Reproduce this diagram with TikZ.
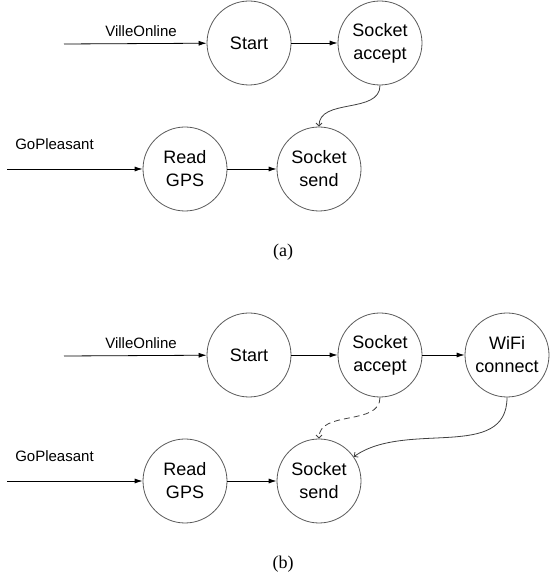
\documentclass[tikz,border=0pt]{standalone}
\usepackage{fontspec}
\setmainfont{Liberation Serif}
\setsansfont{Liberation Sans}
\usetikzlibrary{arrows.meta,positioning}

\begin{document}
\begin{tikzpicture}[x=1pt, y=1pt, ->, >={Latex[length=8pt,width=5pt]}, line width=0.8pt,
                on grid, node distance=131pt,
                state/.style={circle, draw=black!65, minimum size=84pt, inner sep=0pt, align=center,
                              font=\sffamily\fontsize{18}{23}\selectfont},
                input/.style={font=\sffamily\fontsize{15}{18}\selectfont},
                caption/.style={font=\fontsize{18}{21}\selectfont},
                flow/.style={-{Straight Barb[length=3pt,width=6pt]}, draw=black!75}]
		\useasboundingbox (0,0) rectangle (550,578);
		% (a)
		\begin{scope}
			\node [state] (start1) at (249,535) {Start};
			\node [state] (accept1) [right=of start1] {Socket\\accept};
			\node [state] (send1) at (319,409) {Socket\\send};
			\node [state] (gps1) [left=134pt of send1] {Read\\GPS};
			\coordinate (in1) at (64,534);
			\coordinate (in2) at (7,409);
			\node [input] (ville1) at (141,547) {VilleOnline};
			\node [input] (pleasant1) at (54.5,434) {GoPleasant};
			\node [caption] (cap1) at (283,326) {(a)};

			\path (in1) edge (start1)
			      (start1) edge (accept1)
			      (in2) edge (gps1)
			      (gps1) edge (send1)
			      (accept1.south) edge [flow, out=-90, in=90] (send1.north);
		\end{scope}
		% (b)
		\begin{scope}[yshift=-312pt]
			\node [state] (start2) at (249,535) {Start};
			\node [state] (accept2) [right=of start2] {Socket\\accept};
			\node [state] (wifi2) [right=127pt of accept2] {WiFi\\connect};
			\node [state] (send2) at (319,409) {Socket\\send};
			\node [state] (gps2) [left=134pt of send2] {Read\\GPS};
			\coordinate (in3) at (64,534);
			\coordinate (in4) at (7,409);
			\node [input] (ville2) at (141,547) {VilleOnline};
			\node [input] (pleasant2) at (54.5,434) {GoPleasant};
			\node [caption] (cap2) at (283,326) {(b)};

			\path (in3) edge (start2)
			      (start2) edge (accept2)
			      (accept2) edge (wifi2)
			      (in4) edge (gps2)
			      (gps2) edge (send2)
			      (accept2.south) edge [flow, dashed, dash pattern=on 6pt off 4pt, out=-90, in=90] (send2.north)
			      (wifi2.south) edge [flow, out=-90, in=35] (send2.35);
		\end{scope}
\end{tikzpicture}
\end{document}
